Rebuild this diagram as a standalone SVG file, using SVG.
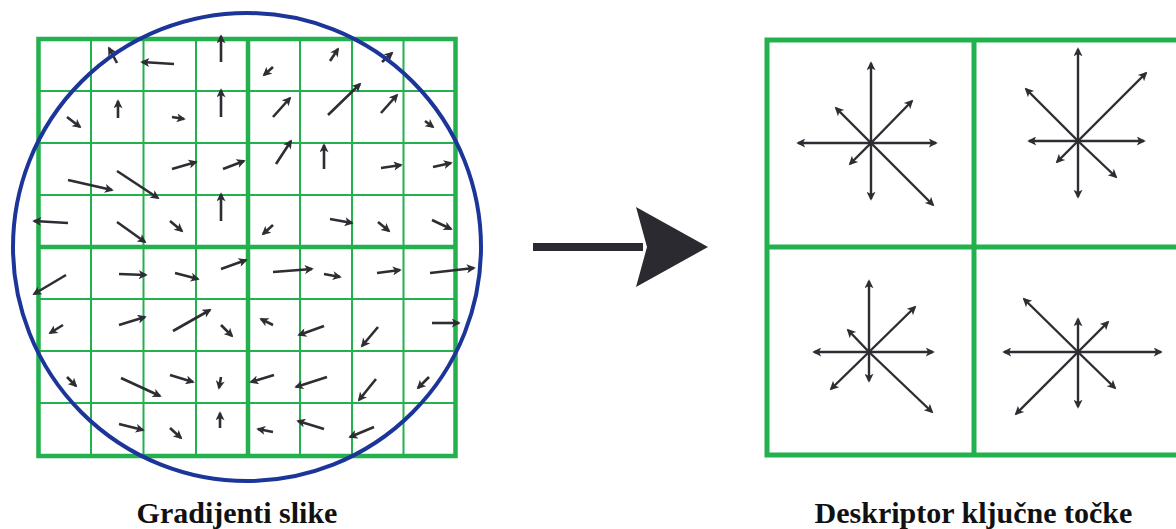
<svg xmlns="http://www.w3.org/2000/svg" width="1176" height="529" viewBox="0 0 1176 529">
<style>
.thin{stroke:#22b14c;stroke-width:2;fill:none}
.thick{stroke:#22b14c;stroke-width:4.5;fill:none}
.rthick{stroke:#22b14c;stroke-width:5;fill:none}
.a{stroke:#2d2d33;stroke-width:2.6;fill:none;marker-end:url(#ah);stroke-linecap:butt}
.s{stroke:#2d2d33;stroke-width:2.4;fill:none;marker-end:url(#sh)}
.lbl{font-family:"Liberation Serif","Times New Roman",serif;font-weight:bold;font-size:30px;fill:#111;text-anchor:middle}
</style>
<defs>
<marker id="ah" viewBox="0 0 10 10" refX="8" refY="5" markerWidth="10" markerHeight="9" markerUnits="userSpaceOnUse" orient="auto"><path d="M0,0 L10,5 L0,10 L2.5,5 z" fill="#2d2d33"/></marker>
<marker id="sh" viewBox="0 0 10 10" refX="8" refY="5" markerWidth="11" markerHeight="9" markerUnits="userSpaceOnUse" orient="auto"><path d="M0,0 L10,5 L0,10 L2.5,5 z" fill="#2d2d33"/></marker>
</defs>
<rect width="1176" height="529" fill="#fff"/>

<g id="gradients">
<g id="grid-left">
<path class="thin" d="M91,39V456M143.5,39V456M196,39V456M300,39V456M352,39V456M403.5,39V456M38.5,91H455.5M38.5,143H455.5M38.5,195H455.5M38.5,299H455.5M38.5,351H455.5M38.5,403H455.5"/>
<path class="thick" d="M248,39V456M38.5,247H455.5"/>
<rect class="thick" x="38.5" y="39" width="417" height="417"/>
</g>
<g id="gradient-arrows">
<line class="a" x1="117" y1="63" x2="109" y2="48"/>
<line class="a" x1="174" y1="64" x2="142" y2="62"/>
<line class="a" x1="221" y1="62" x2="221" y2="36"/>
<line class="a" x1="67" y1="117" x2="80" y2="127"/>
<line class="a" x1="118" y1="118" x2="118" y2="101"/>
<line class="a" x1="172" y1="117" x2="184" y2="119"/>
<line class="a" x1="221" y1="117" x2="221" y2="90"/>
<line class="a" x1="68" y1="180" x2="112" y2="190"/>
<line class="a" x1="117" y1="171" x2="158" y2="198"/>
<line class="a" x1="172" y1="169" x2="196" y2="162"/>
<line class="a" x1="223" y1="169" x2="244" y2="161"/>
<line class="a" x1="68" y1="223" x2="34" y2="221"/>
<line class="a" x1="117" y1="222" x2="145" y2="242"/>
<line class="a" x1="170" y1="221" x2="182" y2="231"/>
<line class="a" x1="221" y1="221" x2="221" y2="194"/>
<line class="a" x1="273" y1="67" x2="264" y2="75"/>
<line class="a" x1="330" y1="61" x2="338" y2="49"/>
<line class="a" x1="382" y1="62" x2="392" y2="53"/>
<line class="a" x1="273" y1="117" x2="290" y2="98"/>
<line class="a" x1="328" y1="115" x2="360" y2="84"/>
<line class="a" x1="381" y1="113" x2="397" y2="95"/>
<line class="a" x1="425" y1="121" x2="433" y2="127"/>
<line class="a" x1="276" y1="164" x2="291" y2="141"/>
<line class="a" x1="324" y1="169" x2="324" y2="145"/>
<line class="a" x1="381" y1="168" x2="401" y2="165"/>
<line class="a" x1="433" y1="167" x2="451" y2="163"/>
<line class="a" x1="273" y1="225" x2="263" y2="234"/>
<line class="a" x1="330" y1="219" x2="352" y2="223"/>
<line class="a" x1="378" y1="222" x2="389" y2="231"/>
<line class="a" x1="432" y1="220" x2="451" y2="229"/>
<line class="a" x1="66" y1="275" x2="34" y2="294"/>
<line class="a" x1="119" y1="274" x2="146" y2="275"/>
<line class="a" x1="175" y1="273" x2="198" y2="279"/>
<line class="a" x1="221" y1="269" x2="246" y2="260"/>
<line class="a" x1="63" y1="325" x2="50" y2="333"/>
<line class="a" x1="119" y1="325" x2="145" y2="317"/>
<line class="a" x1="173" y1="331" x2="210" y2="310"/>
<line class="a" x1="221" y1="325" x2="232" y2="336"/>
<line class="a" x1="67" y1="377" x2="76" y2="386"/>
<line class="a" x1="121" y1="378" x2="160" y2="396"/>
<line class="a" x1="170" y1="375" x2="193" y2="382"/>
<line class="a" x1="221" y1="377" x2="219" y2="388"/>
<line class="a" x1="119" y1="424" x2="143" y2="430"/>
<line class="a" x1="170" y1="428" x2="181" y2="438"/>
<line class="a" x1="220" y1="428" x2="220" y2="413"/>
<line class="a" x1="273" y1="272" x2="312" y2="269"/>
<line class="a" x1="324" y1="274" x2="340" y2="277"/>
<line class="a" x1="377" y1="273" x2="400" y2="270"/>
<line class="a" x1="430" y1="273" x2="474" y2="268"/>
<line class="a" x1="273" y1="325" x2="261" y2="319"/>
<line class="a" x1="324" y1="326" x2="299" y2="335"/>
<line class="a" x1="378" y1="327" x2="362" y2="346"/>
<line class="a" x1="432" y1="323" x2="459" y2="323"/>
<line class="a" x1="274" y1="375" x2="251" y2="382"/>
<line class="a" x1="327" y1="377" x2="296" y2="387"/>
<line class="a" x1="376" y1="379" x2="359" y2="400"/>
<line class="a" x1="429" y1="377" x2="418" y2="388"/>
<line class="a" x1="273" y1="432" x2="258" y2="429"/>
<line class="a" x1="324" y1="429" x2="298" y2="421"/>
<line class="a" x1="374" y1="427" x2="350" y2="437"/>
</g>
<circle id="window" cx="247" cy="247" r="234" fill="none" stroke="#1c3599" stroke-width="4"/>
</g>

<g id="descriptor">
<g id="grid-right">
<path class="rthick" d="M974,40V455M767,247H1182"/>
<rect class="rthick" x="767" y="40" width="415" height="415"/>
</g>
<g id="hist-tl">
<line class="s" x1="871" y1="143" x2="871" y2="63"/>
<line class="s" x1="871" y1="143" x2="871" y2="199"/>
<line class="s" x1="871" y1="143" x2="798" y2="143"/>
<line class="s" x1="871" y1="143" x2="936" y2="143"/>
<line class="s" x1="871" y1="143" x2="912" y2="101"/>
<line class="s" x1="871" y1="143" x2="836" y2="108"/>
<line class="s" x1="871" y1="143" x2="850" y2="164"/>
<line class="s" x1="871" y1="143" x2="933" y2="205"/>
</g>
<g id="hist-tr">
<line class="s" x1="1078" y1="141" x2="1078" y2="49"/>
<line class="s" x1="1078" y1="141" x2="1078" y2="197"/>
<line class="s" x1="1078" y1="141" x2="1029" y2="141"/>
<line class="s" x1="1078" y1="141" x2="1144" y2="141"/>
<line class="s" x1="1078" y1="141" x2="1146" y2="73"/>
<line class="s" x1="1078" y1="141" x2="1026" y2="89"/>
<line class="s" x1="1078" y1="141" x2="1057" y2="162"/>
<line class="s" x1="1078" y1="141" x2="1116" y2="177"/>
</g>
<g id="hist-bl">
<line class="s" x1="869" y1="352" x2="869" y2="281"/>
<line class="s" x1="869" y1="352" x2="869" y2="381"/>
<line class="s" x1="869" y1="352" x2="814" y2="352"/>
<line class="s" x1="869" y1="352" x2="933" y2="352"/>
<line class="s" x1="869" y1="352" x2="915" y2="307"/>
<line class="s" x1="869" y1="352" x2="848" y2="330"/>
<line class="s" x1="869" y1="352" x2="831" y2="389"/>
<line class="s" x1="869" y1="352" x2="932" y2="412"/>
</g>
<g id="hist-br">
<line class="s" x1="1078" y1="352" x2="1078" y2="319"/>
<line class="s" x1="1078" y1="352" x2="1078" y2="407"/>
<line class="s" x1="1078" y1="352" x2="1004" y2="352"/>
<line class="s" x1="1078" y1="352" x2="1161" y2="352"/>
<line class="s" x1="1078" y1="352" x2="1108" y2="322"/>
<line class="s" x1="1078" y1="352" x2="1024" y2="299"/>
<line class="s" x1="1078" y1="352" x2="1016" y2="414"/>
<line class="s" x1="1078" y1="352" x2="1115" y2="388"/>
</g>
</g>

<g id="connectors">
<rect x="533" y="243" width="110" height="8" fill="#2a2a30"/>
<polygon points="636,207 708,247 636,287 647,247" fill="#2a2a30"/>
</g>

<g id="labels" font-family="'Liberation Serif', 'Times New Roman', serif">
<text class="lbl" x="237" y="523" font-family="'Liberation Serif', 'Times New Roman', serif">Gradijenti slike</text>
<text class="lbl" x="973.5" y="523" font-family="'Liberation Serif', 'Times New Roman', serif">Deskriptor ključne točke</text>
</g>
</svg>
